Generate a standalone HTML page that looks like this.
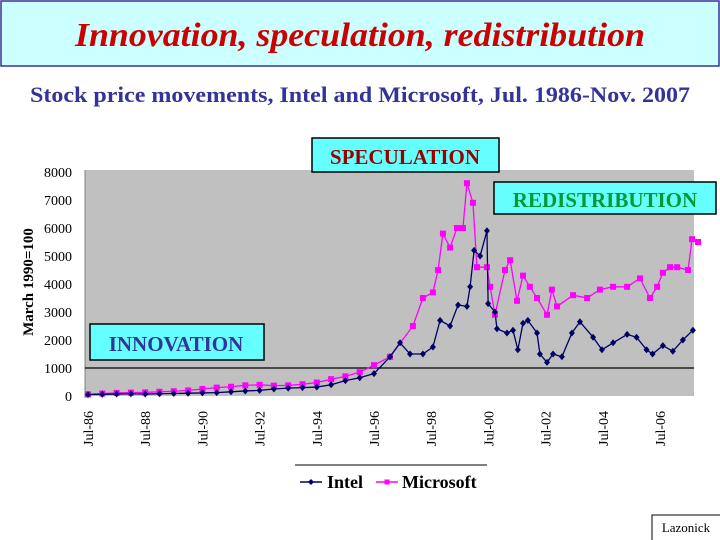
<!DOCTYPE html>
<html><head><meta charset="utf-8"><style>
body{margin:0;width:720px;height:540px;background:#fff;overflow:hidden}
svg{display:block;font-family:"Liberation Serif",serif}
</style></head><body>
<svg id="c" width="720" height="540">
<rect x="1" y="1" width="718" height="65" fill="#ccffff" stroke="#333399" stroke-width="1.5"/>
<text x="75" y="46" textLength="570" lengthAdjust="spacingAndGlyphs" font-size="34" font-style="italic" font-weight="bold" fill="#cc0000">Innovation, speculation, redistribution</text>
<text x="30" y="102" textLength="660" lengthAdjust="spacingAndGlyphs" font-size="22" fill="#333399" font-weight="bold">Stock price movements, Intel and Microsoft, Jul. 1986-Nov. 2007</text>
<rect x="85" y="170" width="609" height="226" fill="#c0c0c0"/>
<line x1="85" y1="170" x2="85" y2="398" stroke="#808080"/>
<text transform="translate(33,282) rotate(-90)" text-anchor="middle" font-size="15" font-weight="bold" fill="#000">March 1990=100</text>
<g id="yt"></g><g id="xt"></g><g id="series"></g>
<line x1="295" y1="465" x2="487" y2="465" stroke="#000"/>
<g>
<line x1="300" y1="482" x2="322" y2="482" stroke="#000066" stroke-width="1.5"/>
<path d="M311 479 L314 482 L311 485 L308 482Z" fill="#000066"/>
<text x="327" y="488" font-size="18" font-weight="bold">Intel</text></g>
<g>
<line x1="376" y1="482" x2="398" y2="482" stroke="#ff00ff" stroke-width="1.5"/>
<rect x="384.5" y="479.5" width="5" height="5" fill="#ff00ff"/>
<text x="402" y="488" font-size="18" font-weight="bold">Microsoft</text></g>
<g><rect x="312" y="138" width="187" height="34" fill="#66ffff" stroke="#000" stroke-width="1.5"/><text x="405" y="164" text-anchor="middle" font-size="21" font-weight="bold" fill="#990000">SPECULATION</text></g>
<g><rect x="494" y="182" width="222" height="32" fill="#66ffff" stroke="#000" stroke-width="1.5"/><text x="605" y="207" text-anchor="middle" font-size="21" font-weight="bold" fill="#009933">REDISTRIBUTION</text></g>
<g><rect x="90" y="324" width="174" height="36" fill="#66ffff" stroke="#000" stroke-width="1.5"/><text x="176" y="351" text-anchor="middle" font-size="21" font-weight="bold" fill="#333399">INNOVATION</text></g>
<g><rect x="652" y="515" width="70" height="30" fill="#fff" stroke="#000"/><text x="686" y="532" text-anchor="middle" font-size="13">Lazonick</text></g>
</svg>
<script>
const yTicks=[0,1000,2000,3000,4000,5000,6000,7000,8000];
const xTickYears=[1986.5,1988.5,1990.5,1992.5,1994.5,1996.5,1998.5,2000.5,2002.5,2004.5,2006.5];
const xTickLabels=["Jul-86","Jul-88","Jul-90","Jul-92","Jul-94","Jul-96","Jul-98","Jul-00","Jul-02","Jul-04","Jul-06"];
const intelDates=[1986.5,1987,1987.5,1988,1988.5,1989,1989.5,1990,1990.5,1991,1991.5,1992,1992.5,1993,1993.5,1994,1994.5,1995,1995.5,1996,1996.5,1997.06,1997.41,1997.76,1998.21,1998.56,1998.81,1999.16,1999.44,1999.75,1999.86,2000.0,2000.21,2000.45,2000.49,2000.73,2000.8,2001.15,2001.36,2001.53,2001.71,2001.88,2002.2,2002.3,2002.55,2002.76,2003.07,2003.42,2003.7,2004.16,2004.47,2004.86,2005.35,2005.68,2006.03,2006.24,2006.6,2006.95,2007.3,2007.65];
const intelValues=[50,60,70,80,70,80,90,100,110,120,150,180,200,250,280,300,320,400,550,650,800,1400,1900,1500,1500,1750,2700,2500,3250,3200,3900,5200,5000,5900,3300,3000,2400,2250,2350,1650,2600,2700,2250,1500,1200,1500,1400,2250,2650,2100,1650,1900,2200,2100,1650,1500,1800,1600,2000,2350];
const msftDates=[1986.5,1987,1987.5,1988,1988.5,1989,1989.5,1990,1990.5,1991,1991.5,1992,1992.5,1993,1993.5,1994,1994.5,1995,1995.5,1996,1996.5,1997.06,1997.86,1998.21,1998.56,1998.74,1998.91,1999.16,1999.4,1999.61,1999.75,1999.96,2000.1,2000.45,2000.56,2000.73,2001.08,2001.26,2001.5,2001.71,2001.95,2002.2,2002.55,2002.72,2002.9,2003.46,2003.95,2004.4,2004.86,2005.35,2005.8,2006.15,2006.4,2006.6,2006.85,2007.1,2007.48,2007.62,2007.83];
const msftValues=[60,90,110,120,130,150,170,200,250,300,330,380,400,370,380,420,480,600,700,850,1100,1400,2500,3500,3700,4500,5800,5300,6000,6000,7600,6900,4600,4600,3900,2900,4500,4850,3400,4300,3900,3500,2900,3800,3200,3600,3500,3800,3900,3900,4200,3500,3900,4400,4600,4600,4500,5600,5500];
const X0=88,PX_YR=28.6,Y0=396,PX_K=28;
const xs=d=>X0+(d-1986.5)*PX_YR, ys=v=>Y0-v/1000*PX_K;
const NS="http://www.w3.org/2000/svg";
function mk(t,a,p){const e=document.createElementNS(NS,t);for(const k in a)e.setAttribute(k,a[k]);p.appendChild(e);return e;}
const yt=document.getElementById('yt'),xt=document.getElementById('xt'),sg=document.getElementById('series');
yTicks.forEach(v=>{const t=mk('text',{x:72,y:ys(v)+5,'text-anchor':'end','font-size':14},yt);t.textContent=v;

});
const ref=mk('line',{x1:85,x2:694,y1:ys(1000),y2:ys(1000),stroke:'#000','stroke-width':1.2},yt);


xTickYears.forEach((d,i)=>{const x=xs(d);const t=mk('text',{transform:`translate(${x+5},${446}) rotate(-90)`,'font-size':14},xt);t.textContent=xTickLabels[i];

});
function series(dates,vals,color,shape,name){
 const g=mk('g',{},sg);
 
 
 mk('polyline',{points:dates.map((d,i)=>xs(d)+','+ys(vals[i])).join(' '),fill:'none',stroke:color,'stroke-width':1.3},g);
 dates.forEach((d,i)=>{const x=xs(d),y=ys(vals[i]);let m;
  if(shape==='d')m=mk('path',{d:`M${x} ${y-3.5}L${x+3} ${y}L${x} ${y+3.5}L${x-3} ${y}Z`,fill:color},g);
  else m=mk('rect',{x:x-3,y:y-3,width:6,height:6,fill:color},g);
  
  });
}
series(msftDates,msftValues,'#ff00ff','s','microsoft-series');
series(intelDates,intelValues,'#000066','d','intel-series');
</script>
</body></html>
